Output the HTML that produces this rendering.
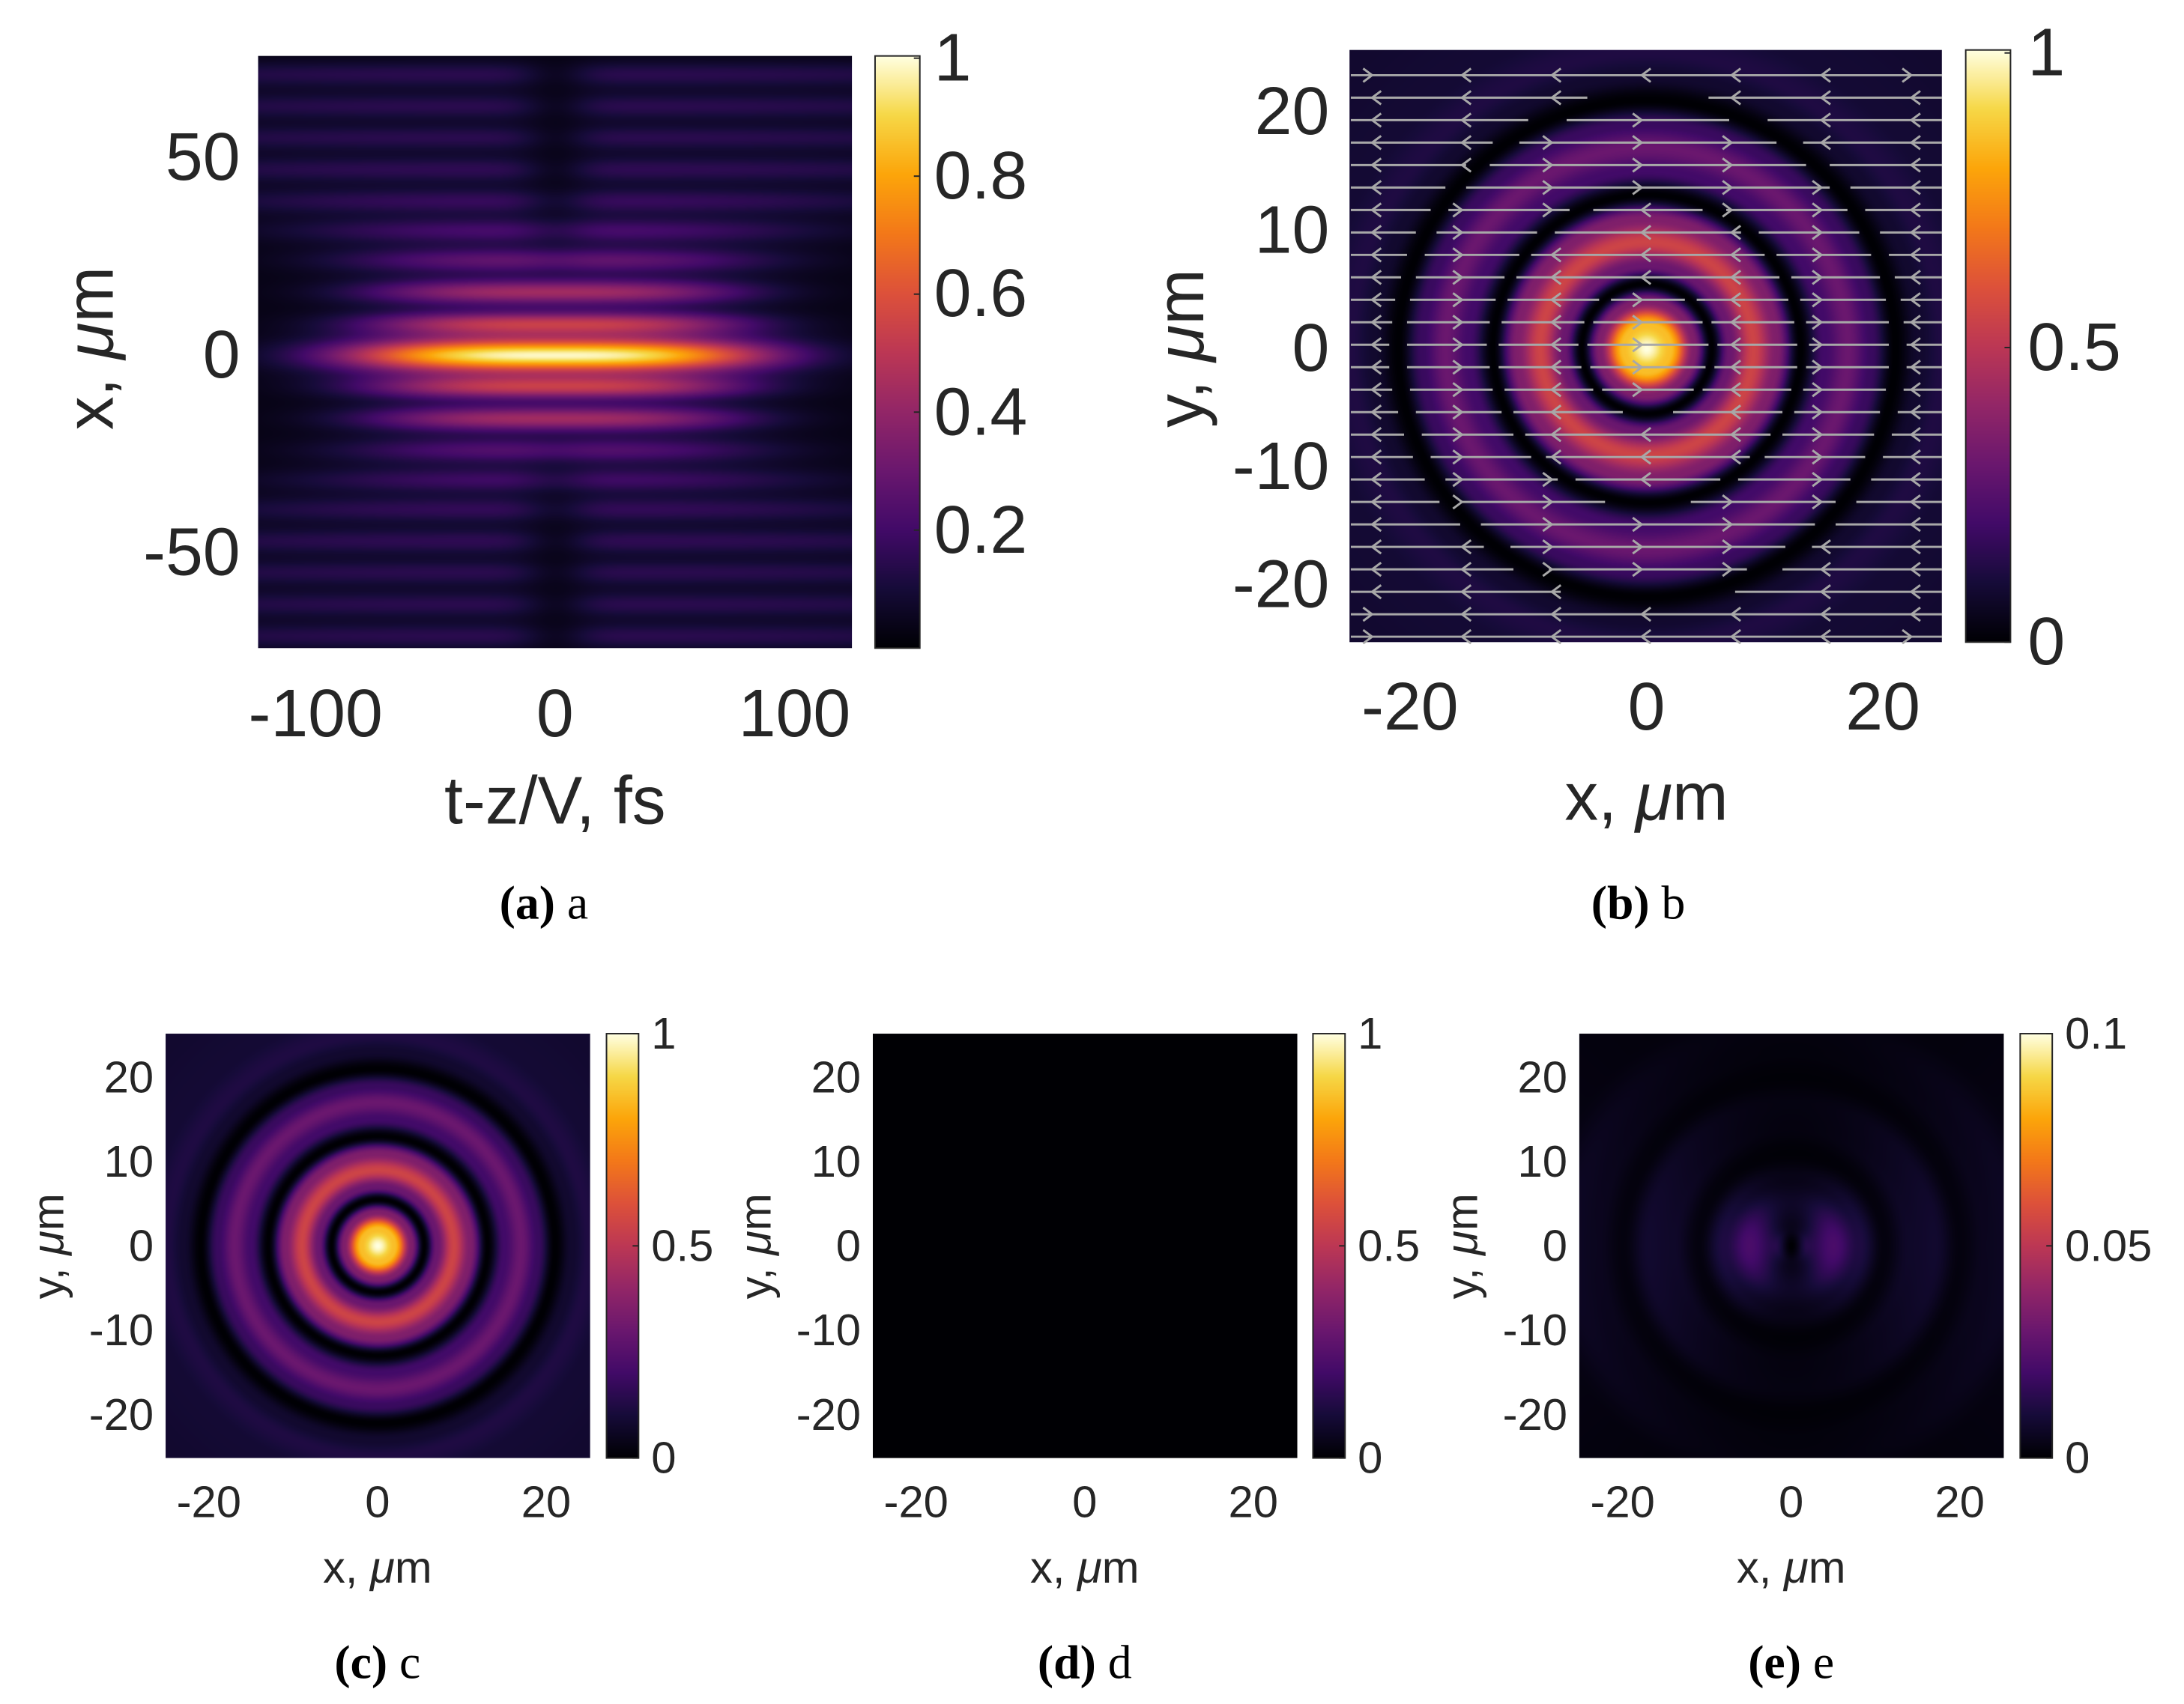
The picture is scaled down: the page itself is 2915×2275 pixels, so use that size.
<!DOCTYPE html>
<html><head><meta charset="utf-8">
<style>
body{margin:0;width:2915px;height:2275px;background:#fff;position:relative;overflow:hidden;font-family:"Liberation Sans",sans-serif;color:#262626}
#wrap{position:absolute;left:0;top:0;width:2915px;height:2275px;transform:scale(0.9957);transform-origin:0 0}
canvas{position:absolute;display:block}
.t{position:absolute;white-space:nowrap;line-height:1}
.big{font-size:90px}
.sm{font-size:60px}
.cap{font-family:"Liberation Serif",serif;font-size:64px;color:#000}
svg{position:absolute;left:0;top:0}
</style></head><body>
<div id="wrap">
<div id="root"></div>
<svg id="ov" width="2915" height="2275"></svg>
</div>
<script>
// ---------- data ----------
const bandX=[-71,-63,-55,-47,-39,-31.5,-24,-16,-8,0,8,16,24,31.5,39,47,55,63,71];
const bandPeak=[0.12,0.12,0.12,0.13,0.14,0.17,0.22,0.42,0.5,1,0.5,0.42,0.26,0.19,0.15,0.13,0.12,0.12,0.12];
const bandWidthT=[220,220,220,200,150,110,90,80,80,88,80,80,90,110,150,200,220,220,220];
const bandSigmaX=[3.3,3.3,3.3,3.3,3.3,3.3,3.3,3.3,3.1,4.3,3.1,3.3,3.3,3.3,3.3,3.3,3.3,3.3,3.3];
const radR=[0,2,4,5.5,7,9,11,13,15,17,19,21,23,25,28,36];
const radV=[1,0.85,0.35,0,0.3,0.55,0.35,0,0.2,0.3,0.18,0,0.08,0.12,0.09,0.08];
const eR=[0,2,5,8,11,14,17,20,23,26,30,36];
const eV=[0,0.14,0.22,0.12,0.02,0.07,0.08,0.02,0.05,0.06,0.03,0.03];
const ticksA_x=[-100,0,100], ticksA_y=[50,0,-50], cbA=[1,0.8,0.6,0.4,0.2];
const ticksXY=[-20,0,20], ticksY2=[20,10,0,-10,-20];
const cbB=[1,0.5,0], cbE=["0.1","0.05","0"];
// ---------- helpers ----------
const inf=[[0,0,0,4],[0.1,22,11,57],[0.2,66,10,104],[0.3,106,23,110],[0.4,147,38,103],[0.5,188,55,84],[0.6,221,81,58],[0.7,243,120,25],[0.8,252,165,10],[0.9,246,215,70],[1,255,255,225]];
function cmap(v){v=Math.max(0,Math.min(1,v));for(let i=1;i<inf.length;i++){if(v<=inf[i][0]){const a=inf[i-1],b=inf[i],f=(v-a[0])/(b[0]-a[0]);return [a[1]+f*(b[1]-a[1]),a[2]+f*(b[2]-a[2]),a[3]+f*(b[3]-a[3])];}}return inf[inf.length-1].slice(1);}
function interp(xs,ys,x){if(x<=xs[0])return ys[0];for(let i=1;i<xs.length;i++){if(x<=xs[i]){const f=(x-xs[i-1])/(xs[i]-xs[i-1]);const s=(1-Math.cos(Math.PI*f))/2;return ys[i-1]+s*(ys[i]-ys[i-1]);}}return ys[ys.length-1];}
const root=document.getElementById('root');
function canv(name,x,y,w,h,fn){const c=document.createElement('canvas');c.width=w;c.height=h;c.style.left=x+'px';c.style.top=y+'px';


const ctx=c.getContext('2d');const im=ctx.createImageData(w,h);for(let j=0;j<h;j++)for(let i=0;i<w;i++){const col=cmap(fn(i,j));const k=(j*w+i)*4;im.data[k]=col[0];im.data[k+1]=col[1];im.data[k+2]=col[2];im.data[k+3]=255;}ctx.putImageData(im,0,0);root.appendChild(c);return c;}
function txt(name,s,x,y,cls,anchor,extra){const d=document.createElement('div');d.className='t '+cls;d.innerHTML=s;


d.style.left=x+'px';d.style.top=y+'px';d.style.transform=(anchor||'translate(-50%,-50%)')+(extra||'');root.appendChild(d);}
const NS='http://www.w3.org/2000/svg',ov=document.getElementById('ov');
function el(tag,attrs,name){const e=document.createElementNS(NS,tag);for(const k in attrs)e.setAttribute(k,attrs[k]);


ov.appendChild(e);return e;}
function colorbar(name,x,y,w,h,tickYs){canv(name,x,y,w,h,(i,j)=>1-j/(h-1));el('rect',{x:x,y:y,width:w,height:h,fill:'none',stroke:'#262626','stroke-width':2},name+'-frame');
tickYs.forEach(ty=>el('line',{x1:x+w-8,x2:x+w,y1:ty,y2:ty,stroke:'#262626','stroke-width':2},name+'-tick'));}
// ---------- panel a ----------
{const X0=346,Y0=75,W=796,H=794;const tx=t=>744+t*3.21, xy=v=>476-v*5.3;
canv('heatmap-a',X0,Y0,W,H,(i,j)=>{const t=(X0+i-744)/3.21, x=(476-(Y0+j))/5.3;let s=0;
for(let k=0;k<bandX.length;k++){const dx=(x-bandX[k])/bandSigmaX[k];let g=bandPeak[k]*Math.exp(-dx*dx)*Math.exp(-Math.pow(Math.abs(t)/bandWidthT[k],3));
const dip=Math.min(1,Math.max(0,(Math.abs(bandX[k])-20)/25));
g*=(1-0.75*dip*Math.exp(-Math.pow(t/14,2)));s+=g;}
return s*0.95+0.03;});
ticksA_x.forEach(v=>txt('x-tick-a',(v<0?'-':'')+Math.abs(v),tx(v),957,'big'));
ticksA_y.forEach(v=>txt('y-tick-a',(v<0?'-':'')+Math.abs(v),322,xy(v),'big','translate(-100%,-50%)'));
txt('x-axis-title-a','t-z/V, fs',744,1074,'big');
txt('y-axis-title-a','x, <i>μ</i>m',121,467,'big','translate(-50%,-50%)',' rotate(-90deg)');
const cy=v=>869-v*(869-78);
colorbar('colorbar-a',1173,75,60,794,cbA.map(cy));
cbA.map(v=>txt('colorbar-tick-a',String(v),1252,cy(v),'big','translate(0,-50%)'));
txt('caption-a','<b>(a)</b> a',729,1211,'cap');}
// ---------- panel b ----------
{const X0=1809,Y0=67,S=794;const px=v=>2207+v*15.85, py=v=>467-v*15.85;
canv('heatmap-b',X0,Y0,S,S,(i,j)=>{const x=(X0+i-2207)/15.85,y=(467-(Y0+j))/15.85;return interp(radR,radV,Math.hypot(x,y));});
const zeros=[5.5,13,21,32];
function sgn(r){let s=1;for(const z of zeros){if(r>z)s=-s;}return s;}
for(let yy=-24.4;yy<=24.5;yy+=1.9){const Y=py(yy);let seg=null;
for(let xx=-25;xx<=25.01;xx+=0.25){const r=Math.hypot(xx,yy);const val=interp(radR,radV,r);const on=val>0.03;
if(on&&seg===null)seg=xx;if((!on||xx>=25)&&seg!==null){el('line',{x1:px(seg),x2:px(xx),y1:Y,y2:Y,stroke:'#a8a8a8','stroke-width':3},'field-line');seg=null;}}
for(let xx=-23.2;xx<=24;xx+=7.6){const r=Math.hypot(xx,yy);if(interp(radR,radV,r)<0.03)continue;const d=sgn(r);const X=px(xx);
el('polyline',{points:`${X-d*12},${Y-9} ${X},${Y} ${X-d*12},${Y+9}`,fill:'none',stroke:'#a8a8a8','stroke-width':3},'field-arrowhead');}}
ticksXY.forEach(v=>txt('x-tick-b',(v<0?'-':'')+Math.abs(v),px(v),948,'big'));
ticksY2.forEach(v=>txt('y-tick-b',(v<0?'-':'')+Math.abs(v),1782,py(v),'big','translate(-100%,-50%)'));
txt('x-axis-title-b','x, <i>μ</i>m',2207,1069,'big');
txt('y-axis-title-b','y, <i>μ</i>m',1583,467,'big','translate(-50%,-50%)',' rotate(-90deg)');
const cy=v=>861-v*(861-71);
colorbar('colorbar-b',2635,67,60,794,cbB.map(cy));
cbB.map(v=>txt('colorbar-tick-b',String(v),2718,cy(v),'big','translate(0,-50%)'));
txt('caption-b','<b>(b)</b> b',2196,1211,'cap');}
// ---------- bottom panels ----------
function small(id,X0,cbx,fn,cbl,cbv){const Y0=1386,S=569;const c0=X0+284;const px=v=>c0+v*11.3,py=v=>1671-v*11.3;
canv('heatmap-'+id,X0,Y0,S,S,(i,j)=>{const x=(i-284)/11.3,y=(284-j)/11.3;return fn(x,y);});
ticksXY.forEach(v=>txt('x-tick-'+id,(v<0?'-':'')+Math.abs(v),px(v),2014,'sm'));
ticksY2.forEach(v=>txt('y-tick-'+id,(v<0?'-':'')+Math.abs(v),X0-16,py(v),'sm','translate(-100%,-50%)'));
txt('x-axis-title-'+id,'x, <i>μ</i>m',c0,2102,'sm');
txt('y-axis-title-'+id,'y, <i>μ</i>m',X0-157,1671,'sm','translate(-50%,-50%)',' rotate(-90deg)');
const cy=v=>1955-v*(1955-1386);
colorbar('colorbar-'+id,cbx,1386,43,569,cbv.map(cy));
cbl.forEach((s,k)=>txt('colorbar-tick-'+id,s,cbx+60,cy(cbv[k]),'sm','translate(0,-50%)'));
txt('caption-'+id,'<b>('+id+')</b> '+id,c0,2229,'cap');}
small('c',222,813,(x,y)=>interp(radR,radV,Math.hypot(x,y)),['1','0.5','0'],[1,0.5,0]);
small('d',1170,1760,(x,y)=>0,['1','0.5','0'],[1,0.5,0]);
small('e',2117,2708,(x,y)=>{const r=Math.hypot(x,y)+1e-6;const f=0.3+0.7*(x*x)/(r*r);return interp(eR,eV,r)*f;},cbE,[1,0.5,0]);
</script>
</body></html>
